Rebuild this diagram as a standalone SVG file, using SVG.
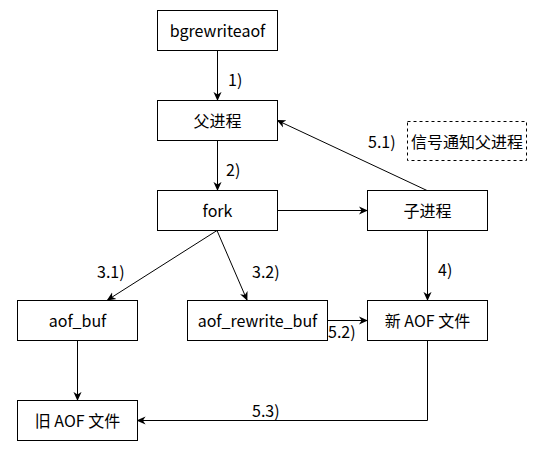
<svg xmlns="http://www.w3.org/2000/svg" width="543" height="451" viewBox="0 0 543 451">
<defs>
<marker id="arr" viewBox="0 0 10 10" refX="9" refY="5" markerWidth="9" markerHeight="9" markerUnits="userSpaceOnUse" orient="auto">
<path d="M0,0.5 L10,5 L0,9.5 L3,5 Z" fill="#000"/>
</marker>
<style>
.box{fill:#fff;stroke:#000;stroke-width:1}
.dash{fill:#fff;stroke:#000;stroke-width:1;stroke-dasharray:3,3}
.t{font-family:"Noto Sans CJK SC","Noto Sans",sans-serif;font-size:16px;fill:#000;text-anchor:middle;dominant-baseline:central}
.l{font-family:"Noto Sans CJK SC","Noto Sans",sans-serif;font-size:16px;fill:#000;dominant-baseline:central}
.e{fill:none;stroke:#000;stroke-width:1;marker-end:url(#arr)}
</style>
</defs>
<rect width="543" height="451" fill="#fff"/>
<g id="connectors">
<path class="e" d="M217.5,50.5 L217.5,100"/>
<path class="e" d="M217.5,140.5 L217.5,190"/>
<path class="e" d="M277.5,210.5 L367,210.5"/>
<path class="e" d="M427,190.5 L277.5,120.5"/>
<path class="e" d="M217,230.5 L107.5,300"/>
<path class="e" d="M217,230.5 L247,300"/>
<path class="e" d="M427.5,230.5 L427.5,300"/>
<path class="e" d="M327.5,320.5 L367,320.5"/>
<path class="e" d="M77.5,340.5 L77.5,400"/>
<path class="e" d="M427.5,340.5 L427.5,420.5 L137.5,420.5"/>
<text class="l" x="228" y="79">1)</text>
<text class="l" x="226" y="169">2)</text>
<text class="l" x="368" y="141">5.1)</text>
<text class="l" x="97" y="271">3.1)</text>
<text class="l" x="252" y="271">3.2)</text>
<text class="l" x="438" y="269">4)</text>
<text class="l" x="328" y="331">5.2)</text>
<text class="l" x="252" y="410">5.3)</text>
</g>
<g id="bgrewriteaof"><rect class="box" x="157.5" y="10.5" width="120" height="40"/><text class="t" x="217.5" y="30">bgrewriteaof</text></g>
<g id="parent"><rect class="box" x="157.5" y="100.5" width="120" height="40"/><text class="t" x="217.5" y="120">父进程</text></g>
<g id="signal"><rect class="dash" x="407.5" y="121.5" width="119" height="39"/><text class="t" x="467" y="140.5">信号通知父进程</text></g>
<g id="fork"><rect class="box" x="157.5" y="190.5" width="120" height="40"/><text class="t" x="217.5" y="210">fork</text></g>
<g id="child"><rect class="box" x="367.5" y="190.5" width="120" height="40"/><text class="t" x="427.5" y="210">子进程</text></g>
<g id="aof_buf"><rect class="box" x="17.5" y="300.5" width="120" height="40"/><text class="t" x="77.5" y="320">aof_buf</text></g>
<g id="aof_rewrite_buf"><rect class="box" x="187.5" y="300.5" width="140" height="40"/><text class="t" x="257.5" y="320">aof_rewrite_buf</text></g>
<g id="new_aof"><rect class="box" x="367.5" y="300.5" width="120" height="40"/><text class="t" x="427.5" y="320">新 AOF 文件</text></g>
<g id="old_aof"><rect class="box" x="17.5" y="400.5" width="120" height="40"/><text class="t" x="77.5" y="420">旧 AOF 文件</text></g>
</svg>
